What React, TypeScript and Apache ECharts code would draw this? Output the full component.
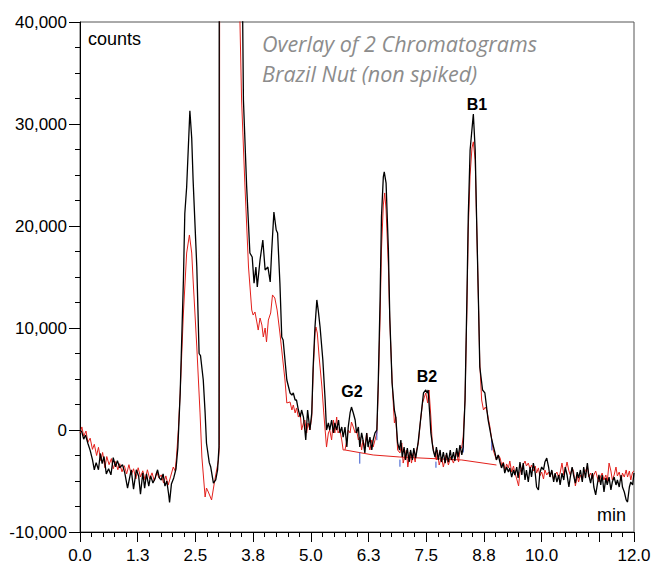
import React, { useEffect, useRef } from "react";
import * as echarts from "echarts";

// ---- tick labels ----
const xMajorTicks = [0, 1.25, 2.5, 3.75, 5, 6.25, 7.5, 8.75, 10, 11.25, 12];
const xTickLabels = ["0.0", "1.3", "2.5", "3.8", "5.0", "6.3", "7.5", "8.8", "10.0", "", "12.0"];
const yTickValues = [-10000, 0, 10000, 20000, 30000, 40000];
const yTickLabels = ["-10,000", "0", "10,000", "20,000", "30,000", "40,000"];

// ---- peak names ----
const peakNames = ["G2", "B2", "B1"];

// ---- black chromatogram (time min, counts) ----
const blackTrace: [number, number][] = [
  [0.0, 0], [0.04, -200], [0.08, -900], [0.12, -500], [0.17, -1300], [0.22, -2000], [0.27, -2900], [0.31, -3900],
  [0.35, -3200], [0.4, -3900], [0.44, -2300], [0.48, -3300], [0.52, -2600], [0.57, -4300], [0.62, -3800], [0.67, -4400],
  [0.72, -2700], [0.77, -3600], [0.81, -3000], [0.86, -3700], [0.92, -3400], [0.97, -4200], [1.03, -5700], [1.07, -4800],
  [1.11, -3900], [1.16, -5800], [1.22, -3900], [1.27, -4500], [1.31, -6300], [1.36, -4200], [1.4, -5700], [1.44, -4300],
  [1.49, -5500], [1.53, -4500], [1.58, -5200], [1.63, -4700], [1.68, -3900], [1.72, -4700], [1.76, -4900], [1.8, -4300],
  [1.84, -5500], [1.88, -5000], [1.92, -6300], [1.94, -7100], [1.98, -5300], [2.03, -4700], [2.08, -3800], [2.12, -1700],
  [2.17, 3600], [2.24, 14700], [2.27, 21200], [2.31, 23800], [2.38, 31300], [2.42, 28600], [2.45, 24500], [2.53, 16000],
  [2.58, 7500], [2.61, 7300], [2.67, 4900], [2.71, 1700], [2.74, -1300], [2.8, -3200], [2.83, -3600], [2.89, -5200],
  [2.94, -4900], [2.98, -3900], [3.01, -1700], [3.05, 300000], [3.5, 60000], [3.524, 40000], [3.54, 32350], [3.61, 23860],
  [3.68, 17350], [3.73, 16960], [3.77, 14400], [3.81, 15980], [3.84, 14020], [3.9, 16670], [3.96, 18630], [4.01, 15690],
  [4.07, 15980], [4.12, 14510], [4.15, 17350], [4.2, 21370], [4.25, 19610], [4.28, 19310], [4.33, 14410], [4.37, 9120],
  [4.4, 8820], [4.48, 4900], [4.55, 3630], [4.59, 3430], [4.62, 3630], [4.66, 2940], [4.69, 2940], [4.73, 1960],
  [4.77, 1270], [4.8, 1960], [4.84, 1270], [4.87, 0], [4.89, -980], [4.93, 1960], [4.98, 0], [5.02, 1670],
  [5.05, 6180], [5.09, 10100], [5.13, 12750], [5.16, 11760], [5.2, 10100], [5.26, 6860], [5.31, 2940], [5.34, 0],
  [5.38, 690], [5.41, 0], [5.45, 980], [5.49, -290], [5.52, 690], [5.56, 0], [5.6, 980], [5.63, -290],
  [5.67, 290], [5.7, -690], [5.74, 290], [5.78, -1670], [5.81, 290], [5.85, 1670], [5.88, 2250], [5.92, 1670],
  [5.96, 980], [5.99, -290], [6.03, 290], [6.06, -1670], [6.1, -290], [6.13, -980], [6.17, -2250], [6.21, -290],
  [6.24, -1670], [6.28, -690], [6.32, -1960], [6.35, -980], [6.39, -290], [6.43, 0], [6.46, 4610], [6.5, 12750],
  [6.53, 20880], [6.57, 24800], [6.59, 25300], [6.63, 24200], [6.68, 17650], [6.71, 11080], [6.76, 4610], [6.81, 1960],
  [6.84, 1270], [6.88, -1270], [6.92, -1960], [6.95, -980], [6.98, -2650], [7.02, -1670], [7.05, -2940], [7.09, -1770],
  [7.13, -3140], [7.16, -1960], [7.2, -2940], [7.23, -1770], [7.27, -2750], [7.31, -1670], [7.33, -980], [7.4, 1960],
  [7.44, 3630], [7.49, 3920], [7.52, 3630], [7.54, 3920], [7.58, 1270], [7.6, -290], [7.65, -1960], [7.69, -2650],
  [7.72, -1670], [7.76, -2940], [7.8, -1960], [7.83, -3140], [7.87, -2160], [7.91, -3240], [7.94, -2250], [7.98, -3140],
  [8.02, -1960], [8.05, -2940], [8.09, -2160], [8.12, -3040], [8.16, -1770], [8.19, -2650], [8.23, -1470], [8.27, -2450],
  [8.3, -1670], [8.34, 2940], [8.38, 12750], [8.41, 20880], [8.45, 27450], [8.52, 30980], [8.56, 27450], [8.59, 20880],
  [8.63, 12750], [8.66, 6180], [8.72, 3920], [8.77, 3630], [8.84, 980], [8.92, -980], [8.99, -2250], [9.02, -2940],
  [9.06, -2450], [9.1, -3240], [9.13, -3720], [9.17, -3240], [9.2, -4220], [9.24, -3630], [9.28, -4120], [9.31, -3720],
  [9.35, -4610], [9.39, -3920], [9.42, -4410], [9.46, -3630], [9.49, -4710], [9.53, -3140], [9.57, -4410], [9.6, -3240],
  [9.64, -4900], [9.67, -3920], [9.71, -5100], [9.75, -3630], [9.78, -4610], [9.82, -3240], [9.86, -4220], [9.89, -5590],
  [9.93, -5880], [9.96, -4220], [10.0, -3630], [10.04, -3920], [10.07, -3140], [10.11, -2750], [10.15, -3630], [10.18, -4610],
  [10.22, -3920], [10.26, -5100], [10.29, -4220], [10.33, -5100], [10.37, -4410], [10.4, -5390], [10.44, -4220], [10.48, -4900],
  [10.51, -3630], [10.55, -4410], [10.59, -5590], [10.62, -4610], [10.66, -3630], [10.69, -4410], [10.73, -5200], [10.77, -4120],
  [10.8, -4710], [10.84, -3920], [10.88, -5100], [10.91, -3630], [10.95, -4710], [10.99, -3240], [11.02, -4410], [11.06, -5200],
  [11.1, -4220], [11.13, -5590], [11.17, -6370], [11.21, -5200], [11.24, -4410], [11.28, -5390], [11.31, -4410], [11.35, -6080],
  [11.39, -4710], [11.42, -5390], [11.46, -4610], [11.5, -5880], [11.53, -5100], [11.57, -4610], [11.61, -5390], [11.64, -4900],
  [11.68, -5590], [11.72, -4410], [11.75, -5590], [11.79, -6080], [11.83, -6860], [11.86, -7060], [11.9, -5590], [11.93, -5100],
  [11.97, -5390], [12.0, -4220],
];

// ---- red chromatogram (time min, counts) ----
const redTrace: [number, number][] = [
  [0.0, -300], [0.04, 300], [0.08, -600], [0.13, -100], [0.17, -1200], [0.22, -800], [0.27, -1900], [0.31, -1400],
  [0.36, -2500], [0.4, -1700], [0.45, -3000], [0.49, -2200], [0.54, -3700], [0.58, -2600], [0.63, -3400], [0.68, -2800],
  [0.72, -3800], [0.77, -3100], [0.82, -3900], [0.86, -3300], [0.91, -4100], [0.96, -3500], [1.01, -4300], [1.06, -3400],
  [1.11, -4400], [1.16, -3800], [1.21, -4800], [1.26, -3700], [1.31, -4600], [1.36, -4000], [1.41, -4900], [1.46, -3900],
  [1.51, -4800], [1.56, -4200], [1.61, -5000], [1.66, -4100], [1.71, -4700], [1.76, -4400], [1.81, -5200], [1.86, -4500],
  [1.91, -5400], [1.96, -4600], [2.02, -3630], [2.06, -4000], [2.09, -2650], [2.13, 0], [2.17, 3630], [2.24, 11470],
  [2.31, 17350], [2.37, 19120], [2.42, 17350], [2.45, 14710], [2.53, 8140], [2.6, 1670], [2.64, -2650], [2.71, -6570],
  [2.74, -5690], [2.78, -6080], [2.85, -6860], [2.92, -4900], [3.0, -2940], [3.02, -1500], [3.05, 300000], [3.44, 60000],
  [3.465, 40000], [3.5, 32350], [3.57, 24220], [3.65, 15980], [3.72, 11760], [3.75, 11270], [3.79, 11570], [3.83, 10590],
  [3.86, 9800], [3.9, 10980], [3.94, 10290], [3.97, 9120], [4.01, 10000], [4.04, 8630], [4.08, 10780], [4.13, 11470],
  [4.17, 13240], [4.22, 12940], [4.27, 11760], [4.33, 9510], [4.37, 7840], [4.44, 4900], [4.48, 2650], [4.55, 2750],
  [4.59, 1960], [4.62, 2450], [4.66, 1670], [4.69, 2160], [4.73, 1270], [4.77, 1670], [4.8, 0], [4.84, 690],
  [4.87, 980], [4.91, -290], [4.94, 690], [4.98, 0], [5.02, 1270], [5.05, 5590], [5.09, 9510], [5.11, 10100],
  [5.14, 9510], [5.18, 7160], [5.24, 4220], [5.28, 1670], [5.34, -1670], [5.38, -290], [5.41, 0], [5.45, -980],
  [5.49, 980], [5.52, -290], [5.56, 1270], [5.59, -290], [5.63, 0], [5.67, -980], [5.7, -1960], [5.74, -1960],
  [5.78, -980], [5.81, 0], [5.85, -290], [5.88, 780], [5.92, 290], [5.96, -290], [5.99, 0], [6.03, -980],
  [6.06, -690], [6.1, -1960], [6.13, -980], [6.17, -1670], [6.21, -290], [6.24, -1270], [6.28, -1960], [6.32, -980],
  [6.35, -1670], [6.39, -980], [6.43, -290], [6.46, 3920], [6.5, 11080], [6.53, 17650], [6.57, 22060], [6.6, 23240],
  [6.63, 21570], [6.68, 15980], [6.71, 10780], [6.76, 4900], [6.79, 2250], [6.81, 690], [6.84, 1270], [6.88, -1960],
  [6.93, -2250], [6.97, -1270], [7.0, -3240], [7.07, -1960], [7.1, -3630], [7.15, -2160], [7.18, -3240], [7.22, -2250],
  [7.26, -3140], [7.29, -1960], [7.33, -1270], [7.37, 690], [7.42, 2650], [7.46, 3240], [7.49, 3630], [7.53, 2650],
  [7.56, 3920], [7.6, 1270], [7.63, -1270], [7.67, -2250], [7.72, -2940], [7.74, -1960], [7.78, -3430], [7.83, -2650],
  [7.87, -3630], [7.93, -2450], [7.98, -3430], [8.03, -2650], [8.09, -3240], [8.15, -2160], [8.2, -3140], [8.23, -1960],
  [8.27, -1670], [8.3, -680], [8.34, 2940], [8.38, 11770], [8.41, 19610], [8.45, 25000], [8.49, 27650], [8.52, 28250],
  [8.56, 26470], [8.59, 20590], [8.63, 12750], [8.66, 6570], [8.7, 2940], [8.74, 1960], [8.78, 2250], [8.81, 1960],
  [8.88, 290], [8.95, -1960], [9.02, -2940], [9.06, -2450], [9.1, -2750], [9.14, -3530], [9.17, -3140], [9.21, -3920],
  [9.24, -3330], [9.28, -3720], [9.31, -3040], [9.35, -4120], [9.39, -3530], [9.42, -4220], [9.46, -4800], [9.5, -5490],
  [9.53, -4120], [9.57, -3720], [9.6, -3430], [9.64, -3040], [9.67, -3530], [9.71, -3240], [9.75, -3820], [9.78, -3430],
  [9.82, -4020], [9.86, -3530], [9.89, -4220], [9.93, -3720], [9.96, -4510], [10.0, -4120], [10.04, -4800], [10.07, -3920],
  [10.11, -4410], [10.15, -4120], [10.18, -4610], [10.22, -4020], [10.26, -4900], [10.29, -4410], [10.33, -4120], [10.37, -4710],
  [10.4, -4220], [10.44, -3240], [10.48, -4410], [10.51, -3920], [10.55, -3140], [10.59, -4020], [10.62, -4410], [10.66, -3720],
  [10.69, -4020], [10.73, -5490], [10.77, -4510], [10.8, -5100], [10.84, -4410], [10.88, -4900], [10.91, -4220], [10.95, -4020],
  [10.99, -3530], [11.02, -4610], [11.06, -4220], [11.1, -4800], [11.13, -4410], [11.17, -4020], [11.21, -4710], [11.24, -5100],
  [11.28, -4510], [11.31, -4220], [11.35, -4900], [11.39, -4410], [11.42, -5100], [11.46, -3240], [11.5, -4020], [11.53, -4900],
  [11.57, -4410], [11.61, -3630], [11.64, -4510], [11.68, -4120], [11.72, -5000], [11.75, -4220], [11.79, -4610], [11.83, -3920],
  [11.86, -4610], [11.9, -4020], [11.93, -4900], [11.97, -4120], [12.0, -4020],
];

// ---- integration baseline (red) ----
const integrationBaseline: [number, number][] = [
  [5.74, -1960], [6.35, -2450], [6.93, -2650], [8.27, -2940], [9.02, -3430],
];

// ---- peak start/end markers (blue): time, counts from, counts to ----
const peakMarkers: [number, number, number][] = [
  [6.06, -2200, -3300], [6.43, 0, -1000], [6.93, -2900, -3600],
  [7.71, -3100, -3700], [8.3, -1500, -2200], [8.92, -1000, -2000],
];

export default function App() {
  const ref = useRef<HTMLDivElement>(null);

  useEffect(() => {
    if (!ref.current) return;
    const chart = echarts.init(ref.current, undefined, { renderer: "svg" });

    const markerData: any[] = [];
    peakMarkers.forEach(([t, a, b]) => {
      markerData.push([t, a], [t, b], [t, "-"]);
    });

    const font = "'Liberation Sans', Arial, sans-serif";

    chart.setOption({
      animation: false,
      grid: {
        left: 80, right: 22, top: 22, bottom: 34,
        show: true, borderColor: "#555", borderWidth: 1, backgroundColor: "transparent",
      },
      xAxis: [
        {
          type: "value", min: 0, max: 12, interval: 1.25, position: "bottom",
          axisLine: { show: true, onZero: false, lineStyle: { color: "#000", width: 1 } },
          axisTick: { show: true, length: 10, lineStyle: { color: "#000" } },
          splitLine: { show: false },
          axisLabel: {
            fontSize: 17, color: "#000", fontFamily: font, margin: 15,
            formatter: (v: number) => {
              const i = xMajorTicks.findIndex((t) => Math.abs(t - v) < 1e-6);
              return i >= 0 ? xTickLabels[i] : "";
            },
          },
        },
        {
          type: "value", min: 0, max: 12, interval: 0.25, position: "bottom",
          axisLine: { show: false, onZero: false },
          axisTick: { show: true, length: 5, lineStyle: { color: "#000" } },
          splitLine: { show: false },
          axisLabel: { show: false },
        },
      ],
      yAxis: {
        type: "value", min: -10000, max: 40000, interval: 10000,
        axisLine: { show: true, onZero: false, lineStyle: { color: "#000", width: 1 } },
        axisTick: { show: true, length: 11, lineStyle: { color: "#000" } },
        minorTick: { show: true, splitNumber: 4, length: 5, lineStyle: { color: "#000" } },
        splitLine: { show: false },
        minorSplitLine: { show: false },
        axisLabel: {
          fontSize: 17, color: "#000", fontFamily: font, margin: 13,
          formatter: (v: number) => {
            const i = yTickValues.indexOf(v);
            return i >= 0 ? yTickLabels[i] : "";
          },
        },
      },
      graphic: [
        { type: "text", x: 88, y: 39, style: { text: "counts", fontSize: 18, fontFamily: font, fill: "#000", verticalAlign: "middle" } },
        { type: "text", x: 597, y: 515, style: { text: "min", fontSize: 18, fontFamily: font, fill: "#000", verticalAlign: "middle" } },
        { type: "text", x: 262, y: 43, style: { text: "Overlay of 2 Chromatograms", fontSize: 21.5, fontStyle: "italic", fontFamily: "'Open Sans', sans-serif", fill: "#8c8c8c", verticalAlign: "middle" } },
        { type: "text", x: 262, y: 73, style: { text: "Brazil Nut (non spiked)", fontSize: 21.5, fontStyle: "italic", fontFamily: "'Open Sans', sans-serif", fill: "#8c8c8c", verticalAlign: "middle" } },
        { type: "text", x: 352, y: 391, style: { text: peakNames[0], fontSize: 16, fontWeight: "bold", fontFamily: font, fill: "#000", align: "center", verticalAlign: "middle" } },
        { type: "text", x: 427, y: 376, style: { text: peakNames[1], fontSize: 16, fontWeight: "bold", fontFamily: font, fill: "#000", align: "center", verticalAlign: "middle" } },
        { type: "text", x: 477, y: 104, style: { text: peakNames[2], fontSize: 16, fontWeight: "bold", fontFamily: font, fill: "#000", align: "center", verticalAlign: "middle" } },
      ],
      series: [
        {
          type: "line", data: redTrace, xAxisIndex: 0, showSymbol: false, symbol: "none",
          lineStyle: { color: "#e3201b", width: 1 }, clip: true, z: 2,
        },
        {
          type: "line", data: integrationBaseline, xAxisIndex: 0, showSymbol: false, symbol: "none",
          lineStyle: { color: "#e3201b", width: 1 }, clip: true, z: 2,
        },
        {
          type: "line", data: markerData, xAxisIndex: 0, showSymbol: false, symbol: "none", connectNulls: false,
          lineStyle: { color: "#3355cc", width: 1 }, clip: true, z: 3,
        },
        {
          type: "line", data: blackTrace, xAxisIndex: 0, showSymbol: false, symbol: "none",
          lineStyle: { color: "#000", width: 1.3 }, clip: true, z: 4,
        },
      ],
    });

    return () => chart.dispose();
  }, []);

  return <div ref={ref} style={{ position: "absolute", left: 0, top: 0, width: 656, height: 566 }} />;
}
